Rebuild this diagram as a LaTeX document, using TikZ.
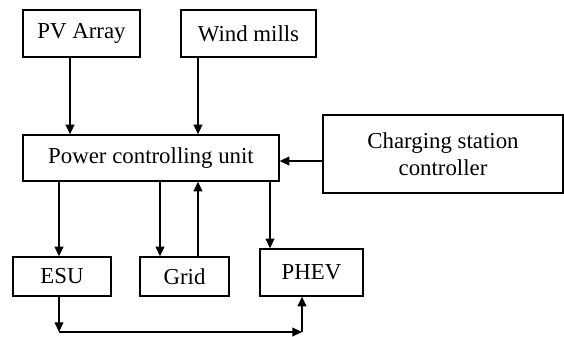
\documentclass[tikz,border=0pt]{standalone}
\usepackage{fontspec}
\setmainfont{Liberation Serif}
\usepackage{tikz}
\usetikzlibrary{arrows.meta, positioning, calc}

\begin{document}
\begin{tikzpicture}[
    x=0.02cm, y=-0.02cm,
    box/.style={rectangle, draw=black, line width=0.8pt, minimum height=0.94cm, align=center, font=\fontsize{13}{15}\selectfont, inner sep=1pt},
    lowbox/.style={box, minimum height=0.78cm},
    arrow/.style={-{Triangle[length=5.5pt, width=5pt]}, line width=0.7pt}
]
    \useasboundingbox (0,0) rectangle (564,336);

    % Sources
    \node[box, minimum width=2.34cm] (pv) at (81.5, 33.5) {PV Array};
    \node[box, minimum width=2.7cm] (wind) at (248.5, 33.5) {Wind mills};

    % Control
    \node[box, minimum width=5.12cm, minimum height=0.92cm] (pcu) at (151, 158) {Power controlling unit};
    \node[box, minimum width=4.8cm, minimum height=1.56cm] (csc) at (443, 154) {Charging station\\controller};

    % Loads
    \node[lowbox, minimum width=1.96cm] (esu) at (62, 276.5) {ESU};
    \node[lowbox, minimum width=1.78cm] (grid) at (184.5, 276.5) {Grid};
    \node[box, minimum width=2.06cm] (phev) at (311.5, 272.5) {PHEV};

    \coordinate (cin) at ([yshift=-0.06cm]pcu.east);
    \coordinate (c1) at ([xshift=-0.06cm]esu.south |- 0,332);
    \coordinate (c2) at ([xshift=-0.19cm]phev.south |- 0,332);

    % Arrows
    \draw[arrow] ([xshift=-0.23cm]pv.south) -- ([xshift=-0.23cm]pv.south |- pcu.north);
    \draw[arrow] ([xshift=-1.01cm]wind.south) -- ([xshift=-1.01cm]wind.south |- pcu.north);
    \draw[arrow] (csc.west |- cin) -- (cin);

    \draw[arrow] ([xshift=-0.06cm]esu.north |- pcu.south) -- ([xshift=-0.06cm]esu.north);
    \draw[arrow] ([xshift=-0.49cm]grid.north |- pcu.south) -- ([xshift=-0.49cm]grid.north);
    \draw[arrow] ([xshift=0.27cm]grid.north) -- ([xshift=0.27cm]grid.north |- pcu.south);
    \draw[arrow] ([xshift=-0.83cm]phev.north |- pcu.south) -- ([xshift=-0.83cm]phev.north);

    \draw[arrow] ([xshift=-0.06cm]esu.south) -- (c1);
    \draw[arrow] (c1) -- (c2);
    \draw[arrow] (c2) -- ([xshift=-0.19cm]phev.south);

\end{tikzpicture}
\end{document}
